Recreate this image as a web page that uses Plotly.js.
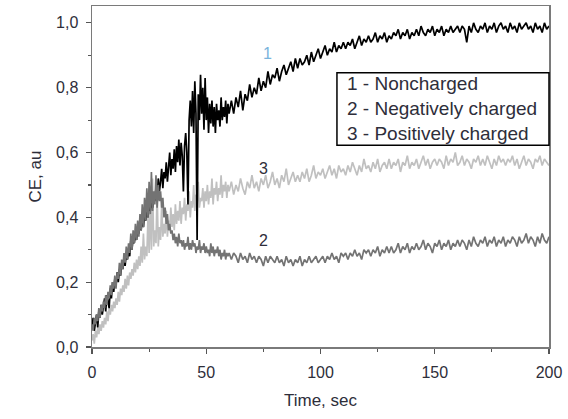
<!DOCTYPE html>
<html>
<head>
<meta charset="utf-8">
<script src="https://cdn.plot.ly/plotly-3.0.1.min.js"></script>
<style>html,body{margin:0;padding:0;background:#fff;}#chart{width:568px;height:419px;}</style>
</head>
<body>
<div id="chart"></div>
<script>
// sample times (s): 0.5 s steps up to 60 s, then 1 s steps
const time = [
0,0.5,1,1.5,2,2.5,3,3.5,4,4.5,
5,5.5,6,6.5,7,7.5,8,8.5,9,9.5,
10,10.5,11,11.5,12,12.5,13,13.5,14,14.5,
15,15.5,16,16.5,17,17.5,18,18.5,19,19.5,
20,20.5,21,21.5,22,22.5,23,23.5,24,24.5,
25,25.5,26,26.5,27,27.5,28,28.5,29,29.5,
30,30.5,31,31.5,32,32.5,33,33.5,34,34.5,
35,35.5,36,36.5,37,37.5,38,38.5,39,39.5,
40,40.5,41,41.5,42,42.5,43,43.5,44,44.5,
45,45.5,46,46.5,47,47.5,48,48.5,49,49.5,
50,50.5,51,51.5,52,52.5,53,53.5,54,54.5,
55,55.5,56,56.5,57,57.5,58,58.5,59,59.5,
60,
61,62,63,64,65,66,67,68,69,70,
71,72,73,74,75,76,77,78,79,80,
81,82,83,84,85,86,87,88,89,90,
91,92,93,94,95,96,97,98,99,100,
101,102,103,104,105,106,107,108,109,110,
111,112,113,114,115,116,117,118,119,120,
121,122,123,124,125,126,127,128,129,130,
131,132,133,134,135,136,137,138,139,140,
141,142,143,144,145,146,147,148,149,150,
151,152,153,154,155,156,157,158,159,160,
161,162,163,164,165,166,167,168,169,170,
171,172,173,174,175,176,177,178,179,180,
181,182,183,184,185,186,187,188,189,190,
191,192,193,194,195,196,197,198,199,200];

// 1 - Noncharged
const ceNoncharged = [
0.06,0.09,0.05,0.08,0.10,0.06,0.11,0.09,0.13,0.10,
0.12,0.15,0.11,0.16,0.14,0.12,0.18,0.15,0.20,0.17,
0.21,0.19,0.23,0.20,0.24,0.22,0.26,0.24,0.27,0.25,
0.29,0.27,0.30,0.28,0.33,0.30,0.34,0.32,0.35,0.33,
0.37,0.35,0.38,0.36,0.40,0.37,0.41,0.39,0.43,0.40,
0.44,0.42,0.45,0.43,0.47,0.45,0.49,0.46,0.52,0.48,
0.51,0.55,0.49,0.54,0.52,0.57,0.51,0.56,0.60,0.53,
0.58,0.55,0.61,0.54,0.62,0.57,0.64,0.56,0.63,0.59,
0.48,0.62,0.66,0.60,0.44,0.70,0.76,0.68,0.79,0.66,
0.82,0.72,0.33,0.78,0.70,0.84,0.72,0.80,0.67,0.83,
0.70,0.77,0.66,0.75,0.69,0.76,0.68,0.74,0.66,0.75,
0.70,0.73,0.68,0.77,0.70,0.74,0.71,0.76,0.69,0.75,
0.72,
0.76,0.72,0.77,0.74,0.79,0.73,0.78,0.76,0.81,0.77,
0.80,0.78,0.83,0.79,0.82,0.80,0.85,0.81,0.84,0.83,
0.86,0.82,0.85,0.87,0.84,0.86,0.88,0.85,0.89,0.86,
0.89,0.87,0.88,0.90,0.87,0.91,0.88,0.90,0.92,0.89,
0.91,0.93,0.90,0.92,0.91,0.94,0.91,0.93,0.92,0.94,
0.92,0.94,0.93,0.95,0.92,0.94,0.96,0.93,0.95,0.94,
0.96,0.94,0.95,0.97,0.94,0.96,0.95,0.97,0.94,0.96,
0.95,0.97,0.96,0.98,0.95,0.97,0.96,0.98,0.95,0.97,
0.96,0.98,0.96,0.99,0.97,0.96,0.98,0.97,0.99,0.96,
0.98,0.97,0.99,0.96,0.98,0.97,0.99,0.97,0.98,0.99,
0.97,0.99,0.98,0.94,0.99,0.97,1.00,0.98,0.97,0.99,
0.98,1.00,0.97,0.99,0.98,1.00,0.97,0.99,1.00,0.98,
0.99,0.97,1.00,0.98,0.99,0.97,1.00,0.98,0.99,1.00,
0.98,0.99,0.97,1.00,0.98,0.99,0.97,1.00,0.98,0.99];

// 2 - Negatively charged
const ceNegative = [
0.07,0.05,0.09,0.07,0.10,0.08,0.12,0.09,0.13,0.11,
0.14,0.12,0.16,0.13,0.17,0.15,0.19,0.16,0.20,0.18,
0.22,0.18,0.23,0.21,0.26,0.22,0.27,0.24,0.29,0.26,
0.31,0.27,0.32,0.29,0.35,0.30,0.36,0.32,0.38,0.33,
0.39,0.34,0.41,0.36,0.44,0.37,0.46,0.39,0.49,0.40,
0.51,0.41,0.54,0.42,0.48,0.44,0.53,0.43,0.50,0.45,
0.48,0.43,0.46,0.40,0.43,0.38,0.41,0.36,0.38,0.35,
0.36,0.33,0.35,0.32,0.34,0.31,0.35,0.32,0.33,0.31,
0.33,0.30,0.32,0.31,0.34,0.30,0.32,0.30,0.33,0.31,
0.32,0.29,0.31,0.30,0.33,0.29,0.31,0.30,0.32,0.29,
0.31,0.29,0.30,0.28,0.32,0.29,0.31,0.28,0.30,0.29,
0.31,0.28,0.30,0.27,0.29,0.28,0.30,0.27,0.29,0.28,
0.29,
0.27,0.29,0.28,0.26,0.29,0.27,0.28,0.26,0.29,0.27,
0.28,0.26,0.28,0.27,0.25,0.28,0.26,0.28,0.27,0.26,
0.28,0.26,0.27,0.25,0.28,0.26,0.27,0.25,0.27,0.26,
0.28,0.25,0.27,0.26,0.28,0.26,0.27,0.28,0.26,0.27,
0.28,0.26,0.28,0.27,0.29,0.27,0.28,0.26,0.29,0.28,
0.29,0.27,0.29,0.28,0.30,0.28,0.29,0.27,0.30,0.29,
0.30,0.28,0.30,0.29,0.31,0.28,0.30,0.29,0.31,0.29,
0.31,0.29,0.30,0.32,0.29,0.31,0.30,0.32,0.29,0.31,
0.30,0.32,0.30,0.31,0.33,0.30,0.32,0.31,0.29,0.32,
0.31,0.33,0.30,0.32,0.31,0.33,0.30,0.32,0.31,0.33,
0.31,0.33,0.32,0.30,0.33,0.31,0.34,0.32,0.31,0.33,
0.32,0.34,0.31,0.33,0.32,0.34,0.31,0.33,0.32,0.34,
0.31,0.33,0.32,0.34,0.33,0.31,0.34,0.32,0.33,0.35,
0.32,0.34,0.33,0.31,0.34,0.32,0.35,0.33,0.32,0.34];

// 3 - Positively charged
const cePositive = [
0.02,0.04,0.01,0.05,0.03,0.06,0.04,0.07,0.05,0.08,
0.06,0.09,0.07,0.11,0.08,0.12,0.10,0.13,0.11,0.14,
0.12,0.15,0.13,0.17,0.14,0.18,0.16,0.19,0.17,0.21,
0.18,0.22,0.19,0.23,0.21,0.24,0.22,0.26,0.23,0.27,
0.24,0.28,0.25,0.31,0.26,0.35,0.27,0.31,0.28,0.40,
0.29,0.45,0.30,0.52,0.31,0.36,0.32,0.48,0.31,0.37,
0.33,0.44,0.34,0.38,0.35,0.42,0.34,0.39,0.36,0.43,
0.37,0.41,0.36,0.44,0.38,0.42,0.39,0.45,0.38,0.43,
0.41,0.46,0.39,0.44,0.42,0.48,0.40,0.45,0.43,0.50,
0.42,0.47,0.44,0.51,0.43,0.46,0.45,0.49,0.43,0.48,
0.45,0.50,0.44,0.48,0.46,0.52,0.44,0.49,0.47,0.51,
0.45,0.49,0.47,0.53,0.46,0.50,0.48,0.51,0.46,0.50,
0.48,
0.51,0.47,0.50,0.48,0.52,0.49,0.47,0.51,0.49,0.53,
0.49,0.51,0.48,0.52,0.50,0.53,0.49,0.51,0.54,0.50,
0.52,0.49,0.53,0.51,0.55,0.50,0.52,0.54,0.51,0.53,
0.51,0.54,0.52,0.55,0.51,0.53,0.56,0.52,0.54,0.53,
0.55,0.52,0.54,0.56,0.53,0.55,0.52,0.56,0.54,0.55,
0.53,0.56,0.54,0.57,0.55,0.53,0.56,0.54,0.58,0.55,
0.56,0.54,0.57,0.55,0.58,0.54,0.56,0.57,0.55,0.58,
0.55,0.57,0.56,0.58,0.54,0.57,0.56,0.59,0.55,0.57,
0.56,0.58,0.55,0.57,0.59,0.56,0.58,0.55,0.57,0.58,
0.56,0.58,0.57,0.55,0.59,0.56,0.58,0.57,0.60,0.56,
0.57,0.59,0.56,0.58,0.57,0.55,0.58,0.57,0.59,0.56,
0.58,0.56,0.59,0.57,0.55,0.58,0.56,0.59,0.57,0.58,
0.56,0.58,0.57,0.59,0.56,0.58,0.55,0.57,0.59,0.56,
0.58,0.57,0.55,0.58,0.57,0.59,0.56,0.58,0.57,0.56];

const legendLines = ['1 - Noncharged', '2 - Negatively charged', '3 - Positively charged'];
const curveLabels = ['1', '2', '3'];
const xTicks = [0, 50, 100, 150, 200];
const yTicks = [0, 0.2, 0.4, 0.6, 0.8, 1.0];

const FONT = 'Liberation Sans, Arial, sans-serif';
const TXT = '#2e2e3a';

const traces = [
  {x: time, y: cePositive, mode: 'lines', line: {color: '#c0c0c0', width: 1.7}, name: legendLines[2]},
  {x: time, y: ceNoncharged, mode: 'lines', line: {color: '#000000', width: 1.7}, name: legendLines[0]},
  {x: time, y: ceNegative, mode: 'lines', line: {color: '#737373', width: 1.7}, name: legendLines[1]}
];

const axisCommon = {
  showgrid: false, zeroline: false, showline: true, mirror: true,
  linecolor: '#7a7a7a', linewidth: 1.5,
  ticks: 'outside', ticklen: 5, tickwidth: 1.2, tickcolor: '#555',
  tickfont: {family: FONT, size: 16, color: TXT}
};

const layout = {
  width: 568, height: 419,
  margin: {l: 92, r: 19, t: 6, b: 72},
  paper_bgcolor: '#fff', plot_bgcolor: '#fff',
  showlegend: false,
  separators: ',.',
  xaxis: Object.assign({}, axisCommon, {
    range: [0, 200], tickvals: xTicks, ticklabelstandoff: 5,
    minor: {ticks: 'outside', ticklen: 3, tickvals: [25, 75, 125, 175], tickcolor: '#555'},
    title: {text: 'Time, sec', font: {family: FONT, size: 17, color: TXT}, standoff: 14}
  }),
  yaxis: Object.assign({}, axisCommon, {
    range: [0, 1.052], tickvals: yTicks, tickformat: '.1f', ticklabelstandoff: 4,
    minor: {ticks: 'outside', ticklen: 3, tickvals: [0.1, 0.3, 0.5, 0.7, 0.9], tickcolor: '#555'},
    title: {text: 'CE, au', font: {family: FONT, size: 17, color: TXT}, standoff: 10}
  }),
  shapes: [
    {type: 'rect', xref: 'paper', yref: 'paper', x0: 0.536, x1: 1.0, y0: 0.592, y1: 0.804,
     line: {color: '#000', width: 1.5}, fillcolor: 'rgba(255,255,255,1)'}
  ],
  annotations: [
    {xref: 'paper', yref: 'paper', x: 0.553, y: 0.772, xanchor: 'left', yanchor: 'middle', showarrow: false,
     text: legendLines[0], font: {family: FONT, size: 19, color: TXT}},
    {xref: 'paper', yref: 'paper', x: 0.553, y: 0.698, xanchor: 'left', yanchor: 'middle', showarrow: false,
     text: legendLines[1], font: {family: FONT, size: 19, color: TXT}},
    {xref: 'paper', yref: 'paper', x: 0.553, y: 0.625, xanchor: 'left', yanchor: 'middle', showarrow: false,
     text: legendLines[2], font: {family: FONT, size: 19, color: TXT}},
    {x: 77, y: 0.907, showarrow: false, text: curveLabels[0], font: {family: FONT, size: 16, color: '#79b4dc'}},
    {x: 75, y: 0.33, showarrow: false, text: curveLabels[1], font: {family: FONT, size: 16, color: TXT}},
    {x: 75, y: 0.552, showarrow: false, text: curveLabels[2], font: {family: FONT, size: 16, color: TXT}}
  ]
};

Plotly.newPlot('chart', traces, layout, {staticPlot: true, displayModeBar: false});
</script>
</body>
</html>
